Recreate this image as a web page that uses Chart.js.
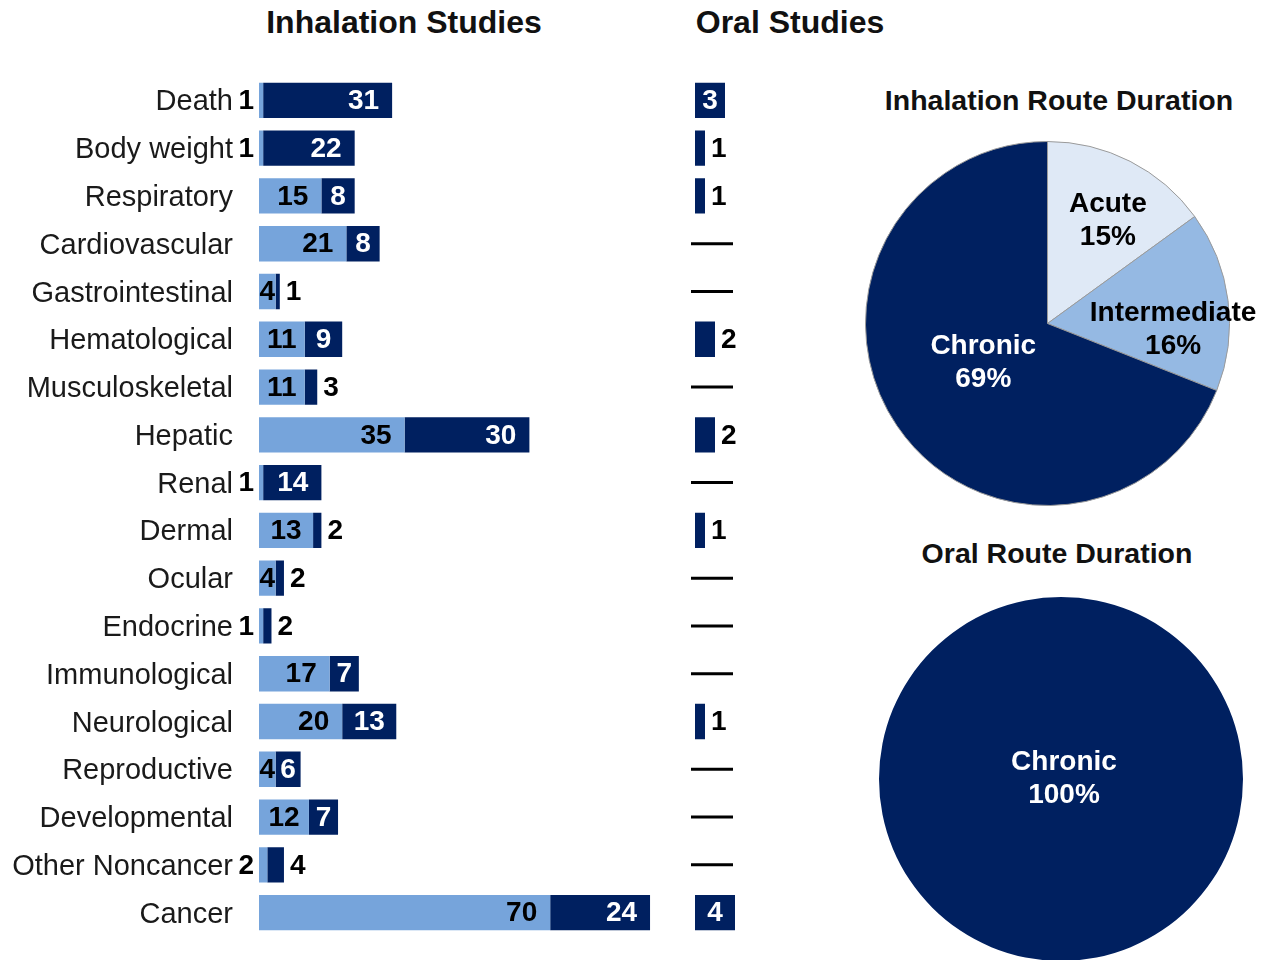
<!DOCTYPE html>
<html>
<head>
<meta charset="utf-8">
<script src="https://cdn.jsdelivr.net/npm/chart.js@4.4.1/dist/chart.umd.min.js"></script>
<style>
  html, body { margin: 0; padding: 0; background: #fff; }
  body { width: 1270px; height: 960px; position: relative; overflow: hidden; font-family: "Liberation Sans", Arial, sans-serif; }
  .box { position: absolute; }
  .ttl { position: absolute; font-weight: bold; color: #111; white-space: nowrap; transform: translate(-50%, -50%); }
</style>
</head>
<body>
<div class="ttl" style="left:404px; top:22px; font-size:32px;">Inhalation Studies</div>
<div class="ttl" style="left:790px; top:22px; font-size:32px;">Oral Studies</div>
<div class="ttl" style="left:1059px; top:100px; font-size:28.5px;">Inhalation Route Duration</div>
<div class="ttl" style="left:1057px; top:553px; font-size:28.5px;">Oral Route Duration</div>

<div class="box" style="left:0; top:0; width:680px; height:960px;"><canvas id="inhal"></canvas></div>
<div class="box" style="left:660px; top:0; width:120px; height:960px;"><canvas id="oral"></canvas></div>
<div class="box" style="left:825px; top:121px; width:445px; height:405px;"><canvas id="pieInhal"></canvas></div>
<div class="box" style="left:839px; top:577px; width:444px; height:404px;"><canvas id="pieOral"></canvas></div>

<script>
// endpoints, top to bottom
const categories = [
  "Death", "Body weight", "Respiratory", "Cardiovascular", "Gastrointestinal",
  "Hematological", "Musculoskeletal", "Hepatic", "Renal", "Dermal", "Ocular",
  "Endocrine", "Immunological", "Neurological", "Reproductive", "Developmental",
  "Other Noncancer", "Cancer"
];
// inhalation studies: light segment and dark segment
const inhalLight = [1, 1, 15, 21, 4, 11, 11, 35, 1, 13, 4, 1, 17, 20, 4, 12, 2, 70];
const inhalDark  = [31, 22, 8, 8, 1, 9, 3, 30, 14, 2, 2, 2, 7, 13, 6, 7, 4, 24];
// oral studies (0 = none, drawn as a dash)
const oralVals   = [3, 1, 1, 0, 0, 2, 0, 2, 0, 1, 0, 0, 0, 1, 0, 0, 0, 4];

const durLabels  = ["Acute", "Intermediate", "Chronic"];
const inhalDur   = [15, 16, 69];
const oralDurLabels = ["Chronic"];
const oralDur    = [100];

const NAVY = "#002060";
const LIGHT = "#76A4DB";
const FONT = '"Liberation Sans", Arial, sans-serif';
const LBL = "bold 28px " + FONT;

Chart.defaults.font.family = FONT;
Chart.defaults.animation = false;

// data labels for stacked bars
const barLabels = {
  id: "barLabels",
  afterDatasetsDraw(chart, args, opts) {
    const ctx = chart.ctx;
    ctx.save();
    ctx.font = LBL;
    ctx.textBaseline = "middle";
    chart.data.datasets.forEach((ds, di) => {
      const meta = chart.getDatasetMeta(di);
      meta.data.forEach((bar, i) => {
        const v = ds.data[i];
        const y = bar.y + 1;
        const left = Math.min(bar.x, bar.base), right = Math.max(bar.x, bar.base);
        const w = right - left;
        if (v === 0) {
          if (opts.zeroDash) {
            const xs = chart.scales.x;
            ctx.strokeStyle = "#000";
            ctx.lineWidth = 3;
            ctx.beginPath();
            ctx.moveTo(xs.getPixelForValue(0) - 4, bar.y);
            ctx.lineTo(xs.getPixelForValue(3.8), bar.y);
            ctx.stroke();
          }
          return;
        }
        const txt = String(v);
        const tw = ctx.measureText(txt).width;
        const light = ds.labelKind === "light";
        const fits = light ? w >= tw : w >= tw + 5;
        if (fits) {
          const pad = Math.min(13, (w - tw) / 2);
          ctx.textAlign = "right";
          ctx.fillStyle = light ? "#000" : "#fff";
          ctx.fillText(txt, Math.max(left + tw, right - pad), y);
        } else if (light) {
          ctx.textAlign = "right";
          ctx.fillStyle = "#000";
          ctx.fillText(txt, left - 5, y);
        } else {
          ctx.textAlign = "left";
          ctx.fillStyle = "#000";
          ctx.fillText(txt, right + 6, y);
        }
      });
    });
    ctx.restore();
  }
};

new Chart(document.getElementById("inhal"), {
  type: "bar",
  data: {
    labels: categories,
    datasets: [
      { label: "light", labelKind: "light", data: inhalLight, backgroundColor: LIGHT,
        borderWidth: 0, barPercentage: 0.74, categoryPercentage: 1 },
      { label: "dark", labelKind: "dark", data: inhalDark, backgroundColor: NAVY,
        borderWidth: 0, barPercentage: 0.74, categoryPercentage: 1 }
    ]
  },
  options: {
    indexAxis: "y",
    responsive: true,
    maintainAspectRatio: false,
    layout: { padding: { top: 76.5, bottom: 23.5, left: 0, right: 5 } },
    plugins: { legend: { display: false }, tooltip: { enabled: false }, barLabels: { zeroDash: false } },
    scales: {
      x: { stacked: true, display: false, min: 0, max: 100 },
      y: {
        stacked: true,
        grid: { display: false },
        border: { display: false },
        ticks: { color: "#1a1a1a", font: { size: 29 }, padding: 18, labelOffset: 2 },
        afterFit(s) { s.width = 259; s.paddingTop = 0; s.paddingBottom = 0; }
      }
    }
  },
  plugins: [barLabels]
});

new Chart(document.getElementById("oral"), {
  type: "bar",
  data: {
    labels: categories,
    datasets: [
      { label: "oral", labelKind: "dark", data: oralVals, backgroundColor: NAVY,
        borderWidth: 0, barPercentage: 0.74, categoryPercentage: 1 }
    ]
  },
  options: {
    indexAxis: "y",
    responsive: true,
    maintainAspectRatio: false,
    layout: { padding: { top: 76.5, bottom: 23.5, left: 35, right: 5 } },
    plugins: { legend: { display: false }, tooltip: { enabled: false }, barLabels: { zeroDash: true } },
    scales: {
      x: { display: false, min: 0, max: 8 },
      y: { display: false }
    }
  },
  plugins: [barLabels]
});

// pie labels: name + percent, placed along the slice's mid angle
const pieLabels = {
  id: "pieLabels",
  afterDatasetsDraw(chart, args, opts) {
    const ctx = chart.ctx;
    const meta = chart.getDatasetMeta(0);
    ctx.save();
    ctx.font = LBL;
    ctx.textAlign = "center";
    ctx.textBaseline = "middle";
    meta.data.forEach((arc, i) => {
      const p = arc.getProps(["x", "y", "startAngle", "endAngle", "outerRadius"], true);
      const mid = (p.startAngle + p.endAngle) / 2;
      const full = (p.endAngle - p.startAngle) > 6.2;
      const rr = full ? 0 : p.outerRadius * opts.radius[i];
      const dx = (opts.shift && opts.shift[i]) ? opts.shift[i] : [0, 0];
      const cx = p.x + Math.cos(mid) * rr + dx[0];
      const cy = p.y + Math.sin(mid) * rr + dx[1];
      ctx.fillStyle = opts.colors[i];
      ctx.fillText(chart.data.labels[i], cx, cy - 16);
      ctx.fillText(chart.data.datasets[0].data[i] + "%", cx, cy + 17);
    });
    ctx.restore();
  }
};

new Chart(document.getElementById("pieInhal"), {
  type: "pie",
  data: {
    labels: durLabels,
    datasets: [{
      data: inhalDur,
      backgroundColor: ["#DFE9F6", "#95B9E3", NAVY],
      borderColor: "#9a9a9a",
      borderWidth: 1
    }]
  },
  options: {
    responsive: true,
    maintainAspectRatio: false,
    layout: { padding: { top: 20, bottom: 20, left: 40, right: 40 } },
    plugins: {
      legend: { display: false }, tooltip: { enabled: false },
      pieLabels: { radius: [0.67, 0.69, 0.40], colors: ["#000", "#000", "#fff"], shift: [[5, 5], [1, 22], [-4, -2]] }
    }
  },
  plugins: [pieLabels]
});

new Chart(document.getElementById("pieOral"), {
  type: "pie",
  data: {
    labels: oralDurLabels,
    datasets: [{
      data: oralDur,
      backgroundColor: [NAVY],
      borderWidth: 0
    }]
  },
  options: {
    responsive: true,
    maintainAspectRatio: false,
    layout: { padding: { top: 20, bottom: 20, left: 40, right: 40 } },
    plugins: {
      legend: { display: false }, tooltip: { enabled: false },
      pieLabels: { radius: [0], colors: ["#fff"], shift: [[3, -1]] }
    }
  },
  plugins: [pieLabels]
});
</script>
</body>
</html>
